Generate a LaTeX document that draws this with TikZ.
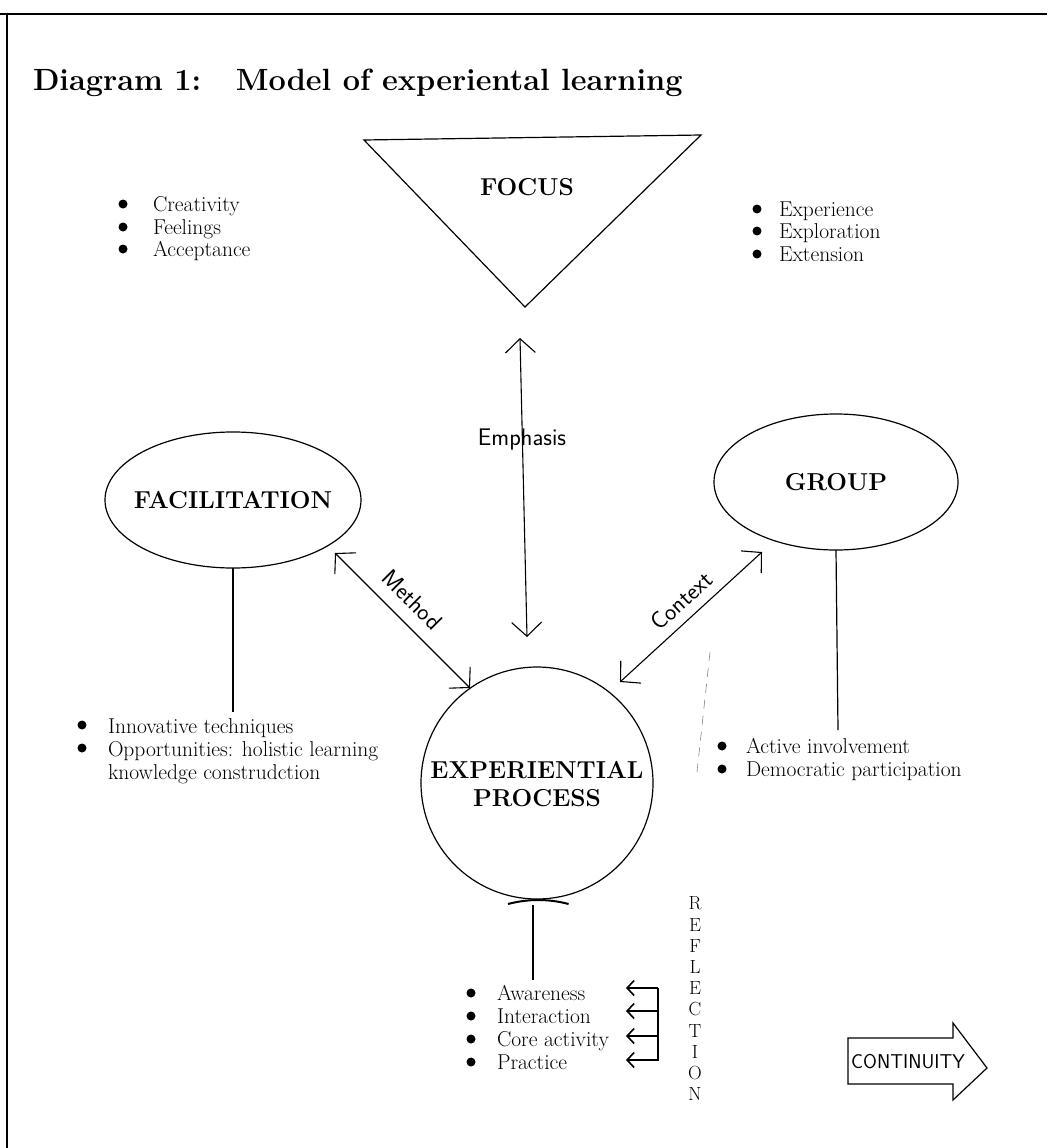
\documentclass[tikz,border=0pt]{standalone}
\usetikzlibrary{shapes.geometric,arrows.meta}
\begin{document}
\begin{tikzpicture}[x=1pt,y=-1pt,
  every node/.style={inner sep=0pt, outer sep=0pt},
  ln/.style={line width=1.2pt},
  dbl/.style={line width=1.1pt, {Straight Barb[length=14pt,width=30pt,line width=1.1pt]}-{Straight Barb[length=14pt,width=30pt,line width=1.1pt]}},
  refarr/.style={line width=1.6pt, -{Straight Barb[length=7pt,width=15pt,line width=1.6pt]}},
  body/.style={font=\fontsize{21.5}{23}\selectfont, anchor=base west},
  big/.style={font=\bfseries\fontsize{24.5}{28}\selectfont},
  lbl/.style={font=\sffamily\fontsize{24}{26}\selectfont},
  bul/.style={fill=black, circle, minimum size=9pt}
]
\useasboundingbox (0,0) rectangle (1047,1148);
% frame
\draw[line width=1.5pt] (0,14) -- (1047,14);
\draw[line width=1.5pt] (7,14) -- (7,1148);

% title
\node[anchor=base west, font=\bfseries\fontsize{30.7}{36}\selectfont] (title) at (33,90) {Diagram 1:\ \ \ Model of experiental learning};

% focus triangle
\coordinate (tl) at (364,140);
\coordinate (tr) at (701,135);
\coordinate (tb) at (525,307);
\draw[ln] (tl) -- (tr) -- (tb) -- cycle;
\node[big] (focus) at (527,187) {FOCUS};

% top-left bullets
\foreach \y/\t [count=\i] in {204/Creativity,227/Feelings,249/Acceptance}{
  \node[bul] (tlb\i) at (123,\y) {};
  \node[body] (tlt\i) at (153,\y+7) {\t};
}
% top-right bullets
\foreach \y/\t [count=\i] in {209/Experience,231/Exploration,254/Extension}{
  \node[bul] (trb\i) at (757,\y) {};
  \node[body] (trt\i) at (779,\y+7) {\t};
}

% main nodes
\node[draw, ln, ellipse, minimum width=256pt, minimum height=136pt] (fac) at (233,500) {};
\node[big] (facT) at (fac.center) {FACILITATION};
\node[draw, ln, ellipse, minimum width=244pt, minimum height=136pt] (grp) at (836,482) {};
\node[big] (grpT) at (grp.center) {GROUP};
\node[draw, ln, circle, minimum size=232pt] (exp) at (537,783) {};
\node[big, align=center] (expT) at (537,784) {EXPERIENTIAL\\PROCESS};

% emphasis
\coordinate (emT) at (520,338);
\coordinate (emB) at (527,637);
\draw[dbl] (emT) -- (emB);
\node[lbl] (emph) at (522,440) {Emphasis};

% method
\coordinate (meA) at (335,553);
\coordinate (meB) at (470,688);
\draw[dbl] (meA) -- node[lbl, sloped, above=13pt, pos=0.46] (meth) {Method} (meB);

% context
\coordinate (coA) at (620,682);
\coordinate (coB) at (762,552);
\draw[dbl] (coA) -- node[lbl, sloped, above=10pt, pos=0.52] (ctx) {Context} (coB);

% facilitation stem and bullets
\coordinate (facE) at (233,712);
\draw[ln] (fac.south) -- (facE);
\node[bul] (fb1) at (82,725) {};
\node[body] (ft1) at (108,733) {Innovative techniques};
\node[bul] (fb2) at (82,748) {};
\node[body] (ft2) at (108,756) {Opportunities: holistic learning};
\node[body] (ft3) at (108,779) {knowledge construdction};

% group stem and bullets
\coordinate (grpE) at (838,730);
\draw[ln] (grp.south) -- (grpE);
\node[bul] (gb1) at (722,746) {};
\node[body] (gt1) at (746,753) {Active involvement};
\node[bul] (gb2) at (722,769) {};
\node[body] (gt2) at (746,776) {Democratic participation};

% faint dashed artifact
\draw[gray, line width=0.6pt, dash pattern=on 9pt off 7pt] (710,652) -- (697,772);

% experiential stem
\draw[line width=2pt] (508,904) arc[start angle=255, end angle=285, radius=117];
\coordinate (expE) at (533,980);
\draw[ln] (533,905) -- (expE);

% bottom bullets
\foreach \y/\t [count=\i] in {993/Awareness,1016/Interaction,1039/Core activity,1062/Practice}{
  \node[bul] (bb\i) at (471,\y) {};
  \node[body] (bt\i) at (497,\y+7) {\t};
}

% reflection arrows
\coordinate (rTop) at (658,988);
\coordinate (rBot) at (658,1061);
\draw[line width=1.6pt] (rTop) -- (rBot);
\foreach \y [count=\i] in {988,1011,1036,1060}{
  \coordinate (rs\i) at (658,\y);
  \coordinate (re\i) at (626,\y);
  \draw[refarr] (rs\i) -- (re\i);
}
\node[align=center, anchor=north, font=\fontsize{19}{21.2}\selectfont] (refl) at (695,897) {R\\E\\F\\L\\E\\C\\T\\I\\O\\N};

% continuity
\draw[line width=1.2pt] (848,1038) -- (953,1038) -- (953,1023) -- (987,1068) -- (953,1100) -- (953,1084) -- (848,1084) -- cycle;
\node[font=\sffamily\fontsize{20}{22}\selectfont] (cont) at (908,1062) {CONTINUITY};
\end{tikzpicture}
\end{document}
